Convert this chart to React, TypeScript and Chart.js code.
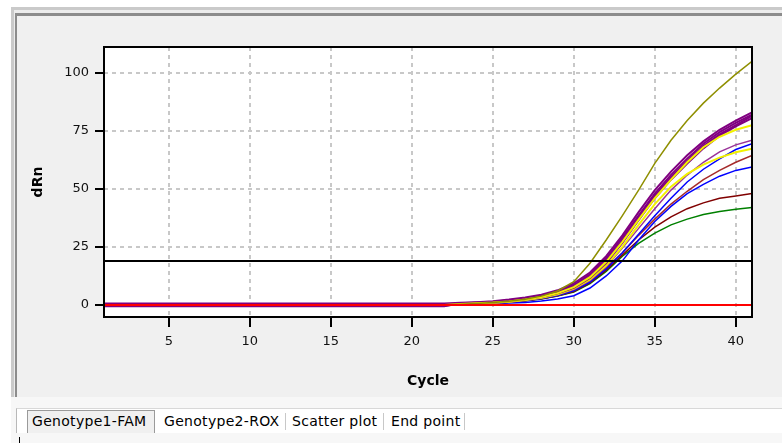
import React, { useEffect, useRef } from "react";
import { Chart, registerables } from "chart.js";

Chart.register(...registerables);

// ---------- data ----------
const cycles = [
  1, 2, 3, 4, 5, 6, 7, 8, 9, 10, 11, 12, 13, 14, 15, 16, 17, 18, 19, 20, 21,
  22, 23, 24, 25, 26, 27, 28, 29, 30, 31, 32, 33, 34, 35, 36, 37, 38, 39, 40, 41,
];
const xTickValues = [5, 10, 15, 20, 25, 30, 35, 40];
const yTickValues = [0, 25, 50, 75, 100];
const thresholdValue = 19;
const xAxisTitle = "Cycle";
const yAxisTitle = "dRn";
const tabLabels = ["Genotype1-FAM", "Genotype2-ROX", "Scatter plot", "End point"];

// NTC (flat red)
const ntcRed = [
  0, 0, 0, 0, 0, 0, 0, 0, 0, 0, 0, 0, 0, 0, 0, 0, 0, 0, 0, 0, 0, 0,
  0, 0, 0, 0, 0, 0, 0, 0, 0, 0, 0, 0, 0, 0, 0, 0, 0, 0, 0,
];
const olive = [
  0, 0, 0, 0, 0, 0, 0, 0, 0, 0, 0, 0, 0, 0, 0, 0, 0, 0, 0, 0, 0, 0,
  0.3, 0.6, 1.0, 1.6, 2.5, 3.8, 6.0, 10, 18, 28, 38.5, 49.5, 61, 71, 79.5, 87, 93.5, 99.5, 105,
];
const purpleA = [
  0.6, 0.6, 0.6, 0.6, 0.6, 0.6, 0.6, 0.6, 0.6, 0.6, 0.6, 0.6, 0.6, 0.6, 0.6, 0.6, 0.6, 0.6, 0.6, 0.6, 0.6, 0.6,
  0.9, 1.2, 1.6, 2.3, 3.2, 4.4, 6.3, 9.3, 14, 21, 30, 40, 49.5, 57.5, 64.5, 70.5, 75.5, 79.5, 83,
];
const purpleB = [
  -0.6, -0.6, -0.6, -0.6, -0.6, -0.6, -0.6, -0.6, -0.6, -0.6, -0.6, -0.6, -0.6, -0.6, -0.6, -0.6, -0.6, -0.6, -0.6, -0.6, -0.6, -0.6,
  0.7, 1.0, 1.4, 2.0, 2.9, 4.0, 5.8, 8.6, 13.2, 20, 29, 38.5, 48, 56, 63, 69.5, 74.5, 78.5, 82,
];
const purpleC = [
  0.3, 0.3, 0.3, 0.3, 0.3, 0.3, 0.3, 0.3, 0.3, 0.3, 0.3, 0.3, 0.3, 0.3, 0.3, 0.3, 0.3, 0.3, 0.3, 0.3, 0.3, 0.3,
  0.6, 0.9, 1.2, 1.8, 2.6, 3.7, 5.4, 8.0, 12.4, 19, 28, 37.5, 47, 55, 62, 68.5, 73.5, 77.5, 81.5,
];
const purpleD = [
  -0.3, -0.3, -0.3, -0.3, -0.3, -0.3, -0.3, -0.3, -0.3, -0.3, -0.3, -0.3, -0.3, -0.3, -0.3, -0.3, -0.3, -0.3, -0.3, -0.3, -0.3, -0.3,
  0.5, 0.8, 1.1, 1.6, 2.4, 3.4, 5.0, 7.4, 11.6, 18, 26.8, 36.5, 46, 54, 61, 67.5, 73, 77, 80.5,
];
const yellowA = [
  0, 0, 0, 0, 0, 0, 0, 0, 0, 0, 0, 0, 0, 0, 0, 0, 0, 0, 0, 0, 0, 0,
  0.4, 0.7, 1.0, 1.5, 2.3, 3.4, 5.1, 7.7, 12, 18.6, 27.2, 36.8, 46, 54, 61.5, 68, 72.5, 75.5, 77.5,
];
const yellowB = [
  0, 0, 0, 0, 0, 0, 0, 0, 0, 0, 0, 0, 0, 0, 0, 0, 0, 0, 0, 0, 0, 0,
  0.3, 0.6, 0.9, 1.4, 2.1, 3.1, 4.6, 7.0, 11, 17, 25, 34.5, 43.5, 51, 56.5, 60.5, 63.5, 65.8, 67.3,
];
const purpleThin = [
  0, 0, 0, 0, 0, 0, 0, 0, 0, 0, 0, 0, 0, 0, 0, 0, 0, 0, 0, 0, 0, 0,
  0.3, 0.5, 0.8, 1.3, 2.0, 3.0, 4.4, 6.6, 10.5, 16.5, 24.5, 33, 41.5, 49.5, 56, 61.5, 66, 69, 71,
];
const blueB = [
  0, 0, 0, 0, 0, 0, 0, 0, 0, 0, 0, 0, 0, 0, 0, 0, 0, 0, 0, 0, 0, 0,
  0.3, 0.5, 0.8, 1.2, 1.9, 2.8, 4.1, 6.1, 9.8, 15.5, 22.5, 30.5, 38.5, 46, 53, 58.5, 63, 67, 69.5,
];
const brown = [
  0, 0, 0, 0, 0, 0, 0, 0, 0, 0, 0, 0, 0, 0, 0, 0, 0, 0, 0, 0, 0, 0,
  0.3, 0.5, 0.8, 1.2, 1.9, 2.8, 4.1, 6.2, 10, 16, 22.5, 30, 37, 43.5, 49, 54, 58, 61.5, 64.5,
];
const blueA = [
  0, 0, 0, 0, 0, 0, 0, 0, 0, 0, 0, 0, 0, 0, 0, 0, 0, 0, 0, 0, 0, 0,
  0.2, 0.3, 0.5, 0.8, 1.1, 1.7, 2.6, 4.0, 7.3, 12.5, 19, 28, 36, 42.5, 48, 52, 55.5, 58, 59.5,
];
const darkRed = [
  0, 0, 0, 0, 0, 0, 0, 0, 0, 0, 0, 0, 0, 0, 0, 0, 0, 0, 0, 0, 0, 0,
  0.3, 0.5, 0.8, 1.2, 1.8, 2.7, 3.9, 5.8, 9.5, 15, 21.5, 28, 33.5, 38, 41.5, 44, 46, 47, 48,
];
const green = [
  0, 0, 0, 0, 0, 0, 0, 0, 0, 0, 0, 0, 0, 0, 0, 0, 0, 0, 0, 0, 0, 0,
  0.3, 0.5, 0.8, 1.2, 1.8, 2.6, 3.8, 5.6, 9.2, 14.5, 21, 26.5, 31, 34.5, 37, 39, 40.3, 41.3, 42,
];

const FONT = "'DejaVu Sans', Tahoma, sans-serif";

const framePlugin = {
  id: "framePlugin",
  beforeDraw(chart: any) {
    const { ctx, chartArea: a } = chart;
    ctx.save();
    ctx.fillStyle = "#ffffff";
    ctx.fillRect(a.left, a.top, a.right - a.left, a.bottom - a.top);
    ctx.restore();
  },
  afterDatasetsDraw(chart: any) {
    const { ctx, chartArea: a } = chart;
    const y = Math.round(chart.scales.y.getPixelForValue(thresholdValue));
    ctx.save();
    ctx.strokeStyle = "#000000";
    ctx.lineWidth = 2;
    ctx.beginPath();
    ctx.moveTo(a.left, y);
    ctx.lineTo(a.right, y);
    ctx.stroke();
    ctx.strokeRect(a.left, a.top, a.right - a.left, a.bottom - a.top);
    ctx.restore();
  },
};

export default function App() {
  const ref = useRef<HTMLCanvasElement | null>(null);

  useEffect(() => {
    const canvas = ref.current;
    if (!canvas) return;
    const series = [
      { data: ntcRed, color: "#ff0000", width: 2 },
      { data: olive, color: "#8f8f00", width: 1.5 },
      { data: yellowA, color: "#f2f200", width: 2 },
      { data: purpleA, color: "#800080", width: 2 },
      { data: purpleB, color: "#800080", width: 2 },
      { data: purpleC, color: "#800080", width: 2 },
      { data: purpleD, color: "#800080", width: 2 },
      { data: yellowB, color: "#f2f200", width: 2 },
      { data: purpleThin, color: "#993399", width: 1.5 },
      { data: blueB, color: "#0000ff", width: 1.5 },
      { data: brown, color: "#a52a2a", width: 1.5 },
      { data: blueA, color: "#0000ff", width: 1.5 },
      { data: darkRed, color: "#800000", width: 1.5 },
      { data: green, color: "#008000", width: 1.5 },
    ];
    const chart = new Chart(canvas, {
      type: "line",
      data: {
        labels: cycles,
        datasets: series.map((s) => ({
          data: s.data,
          borderColor: s.color,
          backgroundColor: s.color,
          borderWidth: s.width,
          pointRadius: 0,
          tension: 0,
          fill: false,
        })),
      },
      options: {
        responsive: false,
        animation: false,
        devicePixelRatio: 1,
        layout: { padding: { left: 0, right: 30, top: 47, bottom: 47 } },
        plugins: { legend: { display: false }, tooltip: { enabled: false } },
        scales: {
          x: {
            type: "linear",
            min: 1,
            max: 41,
            afterBuildTicks: (s: any) => {
              s.ticks = xTickValues.map((v) => ({ value: v }));
            },
            afterFit: (s: any) => {
              s.height = 79;
            },
            grid: {
              color: "#c8c8c8",
              lineWidth: 2,
              drawTicks: true,
              tickLength: 10,
              tickColor: "#000000",
              tickWidth: 2,
            },
            border: { display: false, dash: [4, 4] },
            ticks: {
              color: "#111111",
              font: { family: FONT, size: 13 },
              padding: 7,
              maxRotation: 0,
              autoSkip: false,
            },
            title: {
              display: true,
              text: xAxisTitle,
              color: "#000000",
              font: { family: FONT, size: 14, weight: "bold" },
              padding: { top: 0, bottom: 6 },
            },
          },
          y: {
            type: "linear",
            min: -5.2,
            max: 111.2,
            afterBuildTicks: (s: any) => {
              s.ticks = yTickValues.map((v) => ({ value: v }));
            },
            afterFit: (s: any) => {
              s.width = 104;
            },
            grid: {
              color: "#c8c8c8",
              lineWidth: 2,
              drawTicks: true,
              tickLength: 9,
              tickColor: "#000000",
              tickWidth: 2,
            },
            border: { display: false, dash: [4, 4] },
            ticks: {
              color: "#111111",
              font: { family: FONT, size: 13 },
              padding: 6,
              autoSkip: false,
            },
            title: {
              display: true,
              text: yAxisTitle,
              color: "#000000",
              font: { family: FONT, size: 14, weight: "bold" },
              padding: { top: 30, bottom: 0 },
            },
          },
        },
      } as any,
      plugins: [framePlugin],
    });
    return () => chart.destroy();
  }, []);

  const tabLefts = [32, 164, 292, 391];
  const sepLefts = [285, 383, 464];

  return (
    <div
      style={{
        position: "fixed",
        left: 0,
        top: 0,
        width: 782,
        height: 443,
        background: "#ffffff",
        overflow: "hidden",
        fontFamily: FONT,
      }}
    >
      {/* outer frame */}
      <div
        style={{
          position: "absolute",
          left: 11,
          top: 7,
          width: 771,
          height: 390,
          background: "#ececec",
          borderTop: "3px solid #cacaca",
          borderLeft: "3px solid #cacaca",
          boxSizing: "border-box",
        }}
      />
      {/* inner frame */}
      <div
        style={{
          position: "absolute",
          left: 15,
          top: 13,
          width: 767,
          height: 384,
          background: "#f0f0f0",
          borderTop: "3px solid #8c8c8c",
          borderLeft: "2px solid #8c8c8c",
          boxSizing: "border-box",
        }}
      />
      {/* lower area */}
      <div
        style={{
          position: "absolute",
          left: 11,
          top: 397,
          width: 771,
          height: 46,
          background: "#f7f7f7",
        }}
      />
      {/* tab strip */}
      <div
        style={{
          position: "absolute",
          left: 16,
          top: 408,
          width: 766,
          height: 25,
          background: "#ffffff",
          borderTop: "1px solid #d8d8d8",
          borderLeft: "1px solid #b8b8b8",
          boxSizing: "border-box",
        }}
      />
      {/* selected tab */}
      <div
        style={{
          position: "absolute",
          left: 27,
          top: 410,
          width: 128,
          height: 23,
          background: "#f0f0f0",
          border: "1px solid #9a9a9a",
          borderBottom: "none",
          boxSizing: "border-box",
        }}
      />
      {sepLefts.map((x, i) => (
        <div
          key={"sep" + i}
          style={{
            position: "absolute",
            left: x,
            top: 413,
            width: 1,
            height: 17,
            background: "#c8c8c8",
          }}
        />
      ))}
      {tabLabels.map((t, i) => (
        <div
          key={"tab" + i}
          style={{
            position: "absolute",
            left: tabLefts[i],
            top: 409,
            height: 24,
            lineHeight: "24px",
            fontSize: 14,
            letterSpacing: "0.3px",
            color: "#000000",
            whiteSpace: "nowrap",
          }}
        >
          {t}
        </div>
      ))}
      <div
        style={{
          position: "absolute",
          left: 19,
          top: 437,
          width: 1,
          height: 6,
          background: "#000000",
        }}
      />
      <canvas
        ref={ref}
        width={782}
        height={443}
        style={{ position: "absolute", left: 0, top: 0, width: 782, height: 443 }}
      />
    </div>
  );
}
